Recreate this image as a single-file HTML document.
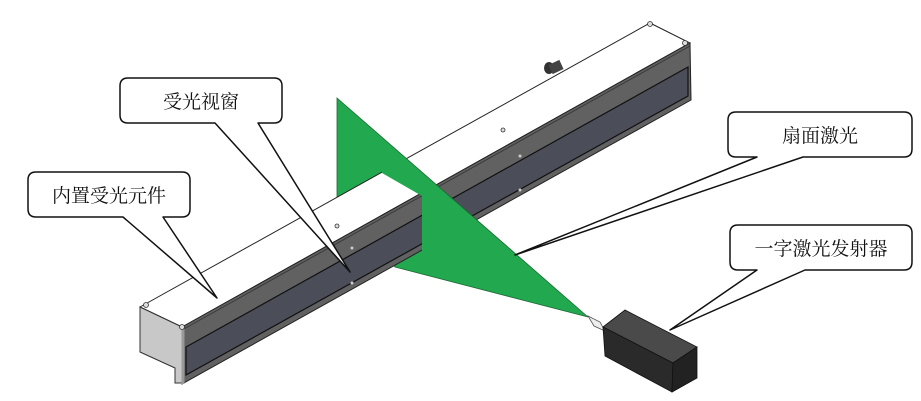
<!DOCTYPE html>
<html><head><meta charset="utf-8"><style>
html,body{margin:0;padding:0;background:#fff;}
svg{display:block;}
text{font-family:"Liberation Serif","Noto Serif CJK SC","Noto Sans CJK SC",serif;font-size:19px;fill:#111;}
</style></head><body>
<svg width="921" height="401" viewBox="0 0 921 401" xmlns="http://www.w3.org/2000/svg">
<defs>
<clipPath id="left"><polygon points="0,0 382,0 382,173 422,196 422,401 0,401"/></clipPath>
<clipPath id="right"><polygon points="382,0 921,0 921,401 422,401 422,196 382,173"/></clipPath>
<g id="bar">
  <polygon points="140,307 650,23 690,43 182,327" fill="#fff" stroke="#222" stroke-width="1"/>
  <polygon points="140,307 182,327 182,383 175,383 175,368 140,352" fill="#c8c8c8" stroke="#333" stroke-width="1"/>
  <polygon points="182,327 690,43 691,100 182,384" fill="#616161" stroke="#222" stroke-width="1"/>
  <polygon points="186,347 688,67 688,96 186,375" fill="#4b4d58" stroke="#111" stroke-width="1.2"/>
  <line x1="182" y1="330" x2="690" y2="46" stroke="#3a3a3a" stroke-width="1"/>
  <line x1="183" y1="327" x2="183" y2="384" stroke="#999" stroke-width="3"/>
  <circle cx="146" cy="305" r="2.5" fill="#ddd" stroke="#333" stroke-width="0.8"/>
  <circle cx="182" cy="327" r="2.5" fill="#ddd" stroke="#333" stroke-width="0.8"/>
  <circle cx="650" cy="24" r="2.5" fill="#ddd" stroke="#333" stroke-width="0.8"/>
  <circle cx="685" cy="43" r="2.5" fill="#ddd" stroke="#333" stroke-width="0.8"/>
  <circle cx="337" cy="226" r="2" fill="#ddd" stroke="#333" stroke-width="0.8"/>
  <circle cx="503" cy="130" r="2" fill="#ddd" stroke="#333" stroke-width="0.8"/>
  <circle cx="352" cy="248" r="1.5" fill="#ccc"/>
  <circle cx="352" cy="283" r="1.5" fill="#ccc"/>
  <circle cx="520" cy="156" r="1.5" fill="#ccc"/>
  <circle cx="520" cy="190" r="1.5" fill="#ccc"/>
  <ellipse cx="549" cy="68" rx="5" ry="6" fill="#333"/>
  <rect x="550" y="62" width="12" height="10" fill="#444" transform="rotate(-25 556 67)"/>
</g>
</defs>
<use href="#bar" clip-path="url(#right)"/>
<polygon points="337,98 588,317 395,267 337,197" fill="#22a84e" stroke="#1b6a33" stroke-width="0.8"/>
<use href="#bar" clip-path="url(#left)"/>
<polygon points="588,316 600,322 605,331 594,326" fill="#eee" stroke="#555" stroke-width="0.8"/>
<polygon points="603,327 625,310 697,347 673,363" fill="#4a4a4a" stroke="#111" stroke-width="0.8"/>
<polygon points="603,327 673,363 672,392 605,356" fill="#2a2a2a" stroke="#111" stroke-width="0.8"/>
<polygon points="673,363 697,347 697,378 672,392" fill="#222" stroke="#111" stroke-width="0.8"/>
<g fill="#fff" stroke="#111" stroke-width="1.5" stroke-linejoin="round">
  <path d="M128,78 H274 Q282,78 282,86 V115 Q282,123 274,123 H258 L350,272 L215,123 H128 Q120,123 120,115 V86 Q120,78 128,78 Z"/>
  <path d="M36,172 H182 Q190,172 190,180 V209 Q190,217 182,217 H163 L217,298 L123,217 H36 Q28,217 28,209 V180 Q28,172 36,172 Z"/>
  <path d="M736,112 H904 Q912,112 912,120 V149 Q912,157 904,157 H803 L515,255 L757,157 H736 Q728,157 728,149 V120 Q728,112 736,112 Z"/>
  <path d="M738,225 H904 Q912,225 912,233 V262 Q912,270 904,270 H805 L670,330 L757,270 H738 Q730,270 730,262 V233 Q730,225 738,225 Z"/>
</g>
<text x="201" y="108" text-anchor="middle">受光视窗</text>
<text x="109" y="202" text-anchor="middle">内置受光元件</text>
<text x="820" y="142" text-anchor="middle">扇面激光</text>
<text x="821" y="255" text-anchor="middle">一字激光发射器</text>
</svg>
</body></html>
